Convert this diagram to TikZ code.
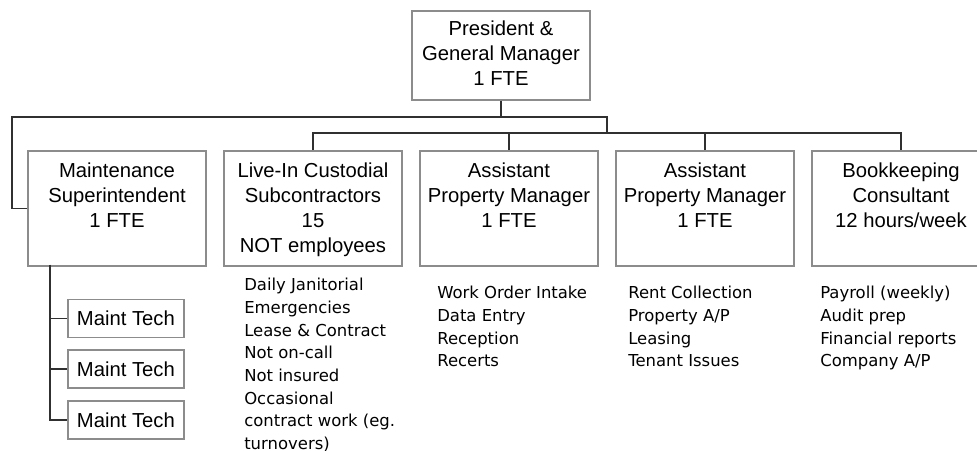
\documentclass[tikz,border=0pt]{standalone}
\usepackage{fontspec}
\setmainfont{Liberation Sans}
\newfontfamily\listfont{DejaVu Sans}
\usetikzlibrary{calc}
\definecolor{boxgray}{HTML}{8C8C8C}
\definecolor{linegray}{HTML}{303030}
\newcommand{\ctrstack}[1]{\begin{tabular}[t]{@{}c@{}}#1\end{tabular}}
\newcommand{\lftstack}[1]{\begin{tabular}[t]{@{}l@{}}#1\end{tabular}}
\tikzset{
  posbox/.style={draw=boxgray, line width=1.2pt, anchor=north, inner sep=0pt,
    minimum width=4.45cm, text height=0.675cm, text depth=2.2cm, font=\fontsize{14.4}{17.8}\selectfont},
  techbox/.style={draw=boxgray, line width=1.2pt, anchor=west, inner sep=0pt,
    minimum width=2.9cm, minimum height=0.95cm, font=\fontsize{14.4}{17.8}\selectfont},
  duties/.style={anchor=base west, inner sep=0pt, font=\listfont\fontsize{11.7}{16.1}\selectfont},
  wire/.style={draw=linegray, line width=1.2pt}
}
\begin{document}
\begin{tikzpicture}[x=0.025cm, y=-0.025cm]
  \useasboundingbox (0,0) rectangle (977,451);
  % top
  \node[posbox, text height=0.625cm, text depth=1.6cm] (pres) at (501,10) {\ctrstack{President \&\\General Manager\\1 FTE}};
  % second row
  \node[posbox] (ms) at (117,150) {\ctrstack{Maintenance\\Superintendent\\1 FTE}};
  \node[posbox] (lc) at (313,150) {\ctrstack{Live-In Custodial\\Subcontractors\\15\\NOT employees}};
  \node[posbox] (ap1) at (509,150) {\ctrstack{Assistant\\Property Manager\\1 FTE}};
  \node[posbox] (ap2) at (705,150) {\ctrstack{Assistant\\Property Manager\\1 FTE}};
  \node[posbox] (bk) at (901,150) {\ctrstack{Bookkeeping\\Consultant\\12 hours/week}};
  % maintenance techs
  \node[techbox] (mt1) at (67,318.5) {Maint Tech};
  \node[techbox] (mt2) at (67,369) {Maint Tech};
  \node[techbox] (mt3) at (67,420) {Maint Tech};
  % duties
  \node[duties] (lcdo) at (244,291) {\lftstack{Daily Janitorial\\Emergencies\\Lease \& Contract\\Not on-call\\Not insured\\Occasional\\contract work (eg.\\turnovers)}};
  \node[duties] (ap1do) at (437,299) {\lftstack{Work Order Intake\\Data Entry\\Reception\\Recerts}};
  \node[duties] (ap2do) at (628,299) {\lftstack{Rent Collection\\Property A/P\\Leasing\\Tenant Issues}};
  \node[duties] (bkdo) at (820,299) {\lftstack{Payroll (weekly)\\Audit prep\\Financial reports\\Company A/P}};
  % connectors
  \coordinate (corner) at (12,117);
  \coordinate (bus1) at (607,117);
  \coordinate (bus2) at (607,133);
  \coordinate (mstem) at (50,265);
  \draw[wire] (pres.south) -- (pres.south |- bus1);
  \draw[wire] (ms.west) -| (corner) -- (bus1) -- (bus2);
  \foreach \n in {lc,ap1,ap2,bk}
    \draw[wire] (bus2) -| (\n.north);
  \foreach \i in {1,2,3}
    \draw[wire] (mstem) |- (mt\i.west);
\end{tikzpicture}
\end{document}
